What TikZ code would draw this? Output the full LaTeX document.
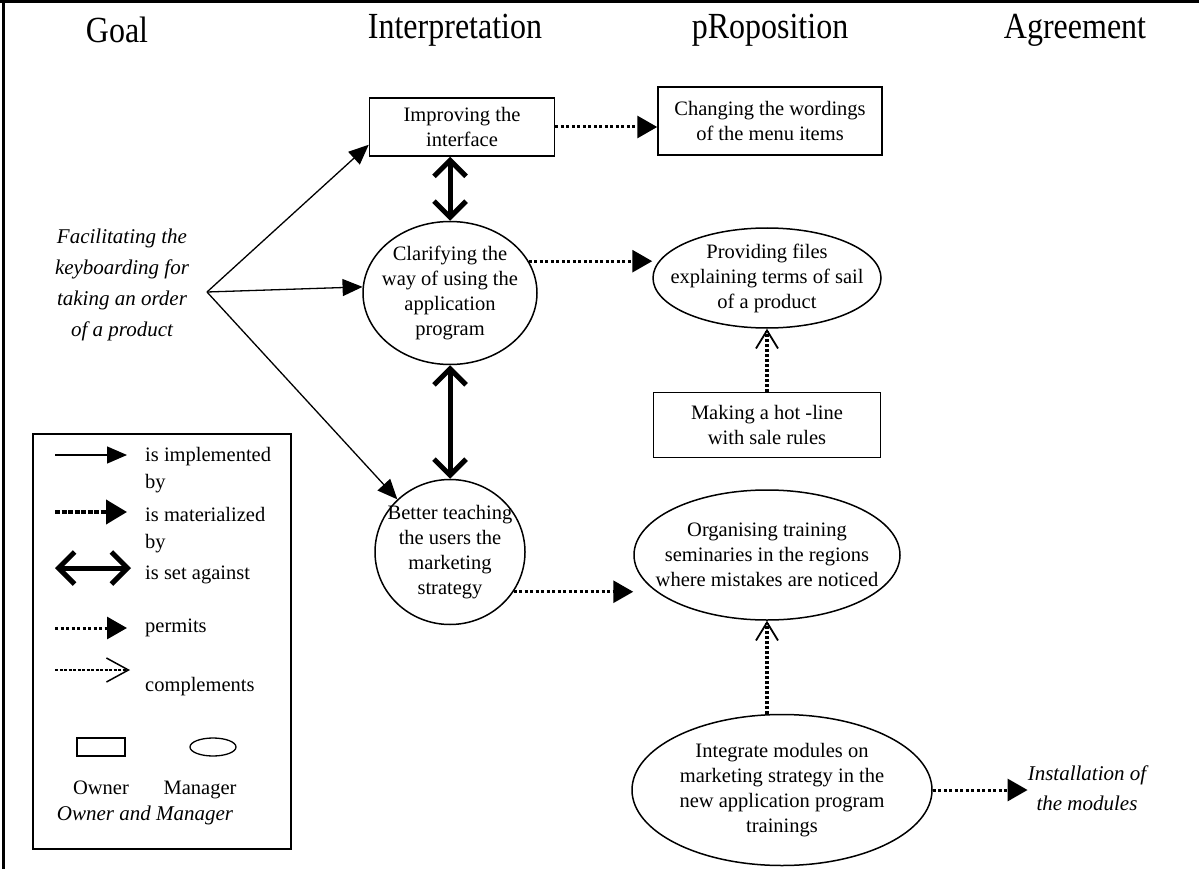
\documentclass[tikz,border=0pt]{standalone}
\usepackage{fontspec}
\usepackage{graphicx}
\setmainfont{Liberation Serif}
\usetikzlibrary{shapes.geometric,arrows.meta}
\begin{document}
\begin{tikzpicture}[x=1pt,y=-1pt,
  hdr/.style={font=\fontsize{32}{32}\selectfont, inner sep=0},
  txt/.style={font=\fontsize{20.5}{25}\selectfont, align=center, inner sep=0},
  txti/.style={font=\fontsize{21}{31}\selectfont\itshape, align=center, inner sep=0},
  ltxt/.style={font=\fontsize{20.5}{27}\selectfont, align=left, inner sep=0, anchor=west},
  box/.style={draw, line width=1.5pt, rectangle, inner sep=0, font=\fontsize{20.5}{25}\selectfont, align=center},
  ell/.style={draw, line width=1.5pt, ellipse, inner sep=0},
  impl/.style={line width=1.3pt, -{Triangle[length=20pt,width=17pt]}},
  perm/.style={line width=3pt, dash pattern=on 3pt off 2.5pt, -{Triangle[length=20pt,width=22pt]}},
  mat/.style={line width=4pt, dash pattern=on 5pt off 1.5pt, -{Triangle[length=21pt,width=24pt]}},
  setag/.style={line width=5pt, {Straight Barb[length=16pt,width=32pt]}-{Straight Barb[length=16pt,width=32pt]}},
  compl/.style={line width=4pt, dash pattern=on 3pt off 2pt, -{Straight Barb[length=18pt,width=22pt,line width=1.8pt]}},
  complleg/.style={line width=2.5pt, dash pattern=on 3pt off 1.5pt, -{Straight Barb[length=22pt,width=24pt,line width=1.5pt]}}
]
\useasboundingbox (0,0) rectangle (1199,869);
% frame
\coordinate (ftl) at (3,2);
\coordinate (ftr) at (1199,2);
\coordinate (fbl) at (3,869);
\draw[line width=3pt] (0,2) -- (ftr);
\draw[line width=3pt] (ftl) -- (fbl);

% headers
\node[hdr] (hg) at (117,30) {\scalebox{1}[1.15]{Goal}};
\node[hdr] (hi) at (455,30) {\scalebox{1}[1.15]{Interpretation}};
\node[hdr] (hp) at (770,30) {\scalebox{1}[1.15]{pRoposition}};
\node[hdr] (ha) at (1075,30) {\scalebox{1}[1.15]{Agreement}};

% goal
\node[txti] (goal) at (122,285) {Facilitating the\\keyboarding for\\taking an order\\of a product};
\coordinate (go) at (207,292);

% interpretation column
\node[box, minimum width=185pt, minimum height=58pt] (imp) at (462,127) {Improving the\\interface};
\node[ell, minimum width=174pt, minimum height=143pt] (cla) at (450,293) {};
\node[txt] (clat) at (cla) {Clarifying the\\way of using the\\application\\program};
\node[ell, minimum width=150pt, minimum height=145pt] (bt) at (450,552) {};
\node[txt] (btt) at (bt) {Better teaching\\the users the\\marketing\\strategy};

% proposition column
\node[box, minimum width=224pt, minimum height=68pt] (chg) at (770,121) {Changing the wordings\\of the menu items};
\node[ell, minimum width=228pt, minimum height=100pt] (prov) at (767,278) {};
\node[txt] (provt) at (prov) {Providing files\\explaining terms of sail\\of a product};
\node[box, minimum width=227pt, minimum height=65pt] (hot) at (767,425) {Making a hot -line\\with sale rules};
\node[ell, minimum width=266pt, minimum height=130pt] (org) at (767,555) {};
\node[txt] (orgt) at (org) {Organising training\\seminaries in the regions\\where mistakes are noticed};
\node[ell, minimum width=300pt, minimum height=151pt] (integ) at (782,790) {};
\node[txt] (integt) at (integ) {Integrate modules on\\marketing strategy in the\\new application program\\trainings};

% agreement
\node[txti, font=\fontsize{21}{30}\selectfont\itshape] (inst) at (1087,788) {Installation of\\the modules};

% connectors
\draw[impl] (go) -- ([yshift=12pt]imp.south west);
\draw[impl] (go) -- (cla.176);
\draw[impl] (go) -- (bt.135);
\draw[setag] (imp.south -| cla.north) -- (cla.north);
\draw[setag] (cla.south) -- (cla.south |- bt.north);
\draw[perm] (imp.east) -- (imp.east -| chg.west);
\draw[perm] (cla.22) -- (cla.22 -| prov.west);
\draw[perm] (bt.-32) -- (bt.-32 -| org.west);
\draw[perm] (integ.east) -- (integ.east -| inst.west);
\draw[compl] (prov.south |- hot.north) -- (prov.south);
\draw[compl] (org.south |- integ.north) -- (org.south);

% legend
\node[draw, line width=1.5pt, minimum width=258pt, minimum height=415pt, anchor=north west, inner sep=0] (leg) at (32,433) {};
\coordinate (l1a) at (55,455); \coordinate (l1b) at (127,455);
\draw[impl] (l1a) -- (l1b);
\node[ltxt] (l1t) at (145,470) {is implemented\\by};
\coordinate (l2a) at (55,512); \coordinate (l2b) at (127,512);
\draw[mat] (l2a) -- (l2b);
\node[ltxt] (l2t) at (145,530) {is materialized\\by};
\coordinate (l3a) at (55,568); \coordinate (l3b) at (131,568);
\draw[setag] (l3a) -- (l3b);
\node[ltxt] (l3t) at (145,575) {is set against};
\coordinate (l4a) at (55,628); \coordinate (l4b) at (127,628);
\draw[perm] (l4a) -- (l4b);
\node[ltxt] (l4t) at (145,628) {permits};
\coordinate (l5a) at (55,670); \coordinate (l5b) at (130,670);
\draw[complleg] (l5a) -- (l5b);
\node[ltxt] (l5t) at (145,687) {complements};
\node[draw, line width=1.3pt, minimum width=48pt, minimum height=18pt, inner sep=0] (lrect) at (101,747) {};
\node[draw, line width=1.3pt, ellipse, minimum width=46pt, minimum height=18pt, inner sep=0] (lell) at (213,747) {};
\node[txt, anchor=base] (lown) at (101,794) {Owner};
\node[txt, anchor=base] (lman) at (200,794) {Manager};
\node[txti] (lom) at (145,815) {Owner and Manager};
\end{tikzpicture}
\end{document}
